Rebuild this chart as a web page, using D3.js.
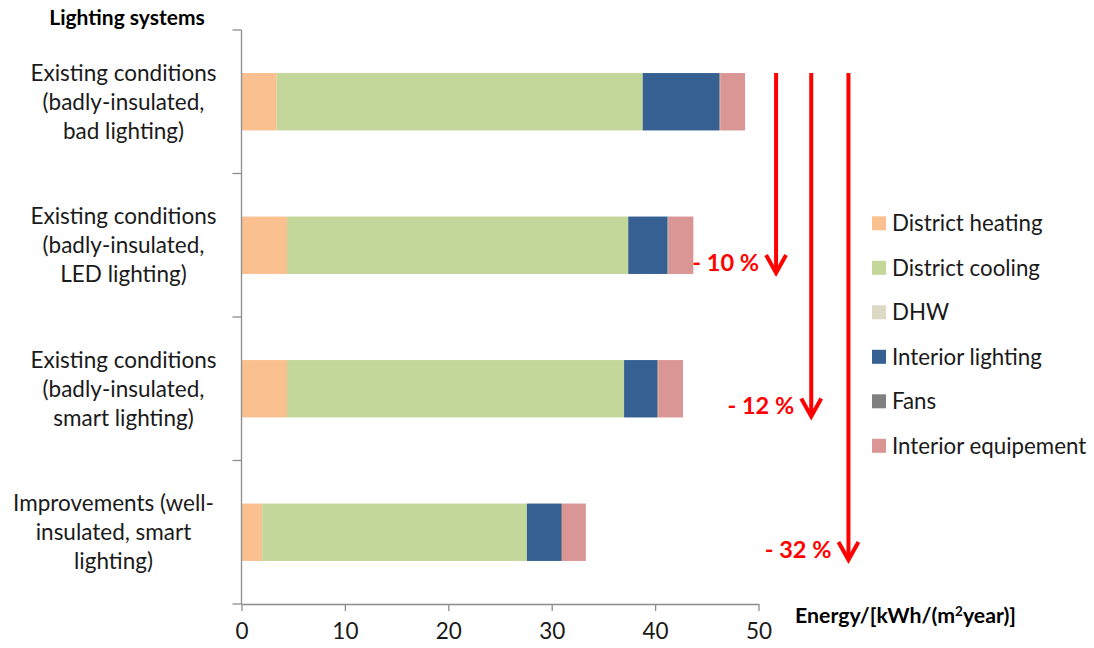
<!DOCTYPE html>
<html>
<head>
<meta charset="utf-8">
<script src="https://cdn.jsdelivr.net/npm/d3@7"></script>
<style>
  html, body { margin: 0; padding: 0; background: #fff; }
  svg { display: block; font-family: Lato, "Open Sans", sans-serif; }
</style>
</head>
<body>
<svg id="chart" width="1094" height="648"></svg>
<script>
// Scenario labels (one line per array entry)
const categories = [
  ["Existing conditions", "(badly-insulated,", "bad lighting)"],
  ["Existing conditions", "(badly-insulated,", "LED lighting)"],
  ["Existing conditions", "(badly-insulated,", "smart lighting)"],
  ["Improvements (well-", "insulated, smart", "lighting)"]
];

// End uses, in stacking order
const seriesNames = ["District heating", "District cooling", "DHW", "Interior lighting", "Fans", "Interior equipement"];
const seriesColors = ["#FAC090", "#C4D79B", "#DDD9C4", "#366092", "#808080", "#DA9694"];

// Energy per end use for each scenario, kWh/(m2 year)
const districtHeating    = [3.4, 4.4, 4.4, 2.0];
const districtCooling    = [35.4, 33.0, 32.6, 25.6];
const dhw                = [0.0, 0.0, 0.0, 0.0];
const interiorLighting   = [7.4, 3.8, 3.2, 3.3];
const fans               = [0.1, 0.1, 0.1, 0.1];
const interiorEquipement = [2.4, 2.4, 2.4, 2.3];

const xTicks = [0, 10, 20, 30, 40, 50];

// Savings arrows: scenario compared with the first one, and arrow x (kWh units)
const savingTargets = [1, 2, 3];
const arrowX = [51.7, 55.1, 58.7];

const seriesValues = [districtHeating, districtCooling, dhw, interiorLighting, fans, interiorEquipement];

const svg = d3.select("#chart");
const axisColor = "#8c8c8c";
const plot = { left: 241.5, right: 758.5, top: 30, bottom: 604 };

const x = d3.scaleLinear().domain([0, 50]).range([plot.left, plot.right]);
const y = d3.scaleBand()
  .domain(d3.range(categories.length))
  .range([plot.top, plot.bottom])
  .paddingInner(0.6)
  .paddingOuter(0.3);

// Stack the rows
const rows = categories.map((c, i) => {
  const r = { idx: i };
  seriesNames.forEach((s, j) => { r[s] = seriesValues[j][i]; });
  return r;
});
const stacked = d3.stack().keys(seriesNames)(rows);
const totals = rows.map(r => d3.sum(seriesNames, s => r[s]));

// Bars
const layers = svg.append("g").selectAll("g")
  .data(stacked).join("g")
  .attr("fill", (d, i) => seriesColors[i]);
layers.selectAll("rect")
  .data(d => d.filter(v => v[1] - v[0] > 0))
  .join("rect")
  .attr("x", d => x(d[0]))
  .attr("width", d => x(d[1]) - x(d[0]))
  .attr("y", d => y(d.data.idx))
  .attr("height", y.bandwidth());

// Vertical (category) axis with ticks at band boundaries
const yAxisG = svg.append("g");
yAxisG.append("line")
  .attr("x1", plot.left).attr("x2", plot.left)
  .attr("y1", plot.top).attr("y2", plot.bottom)
  .attr("stroke", axisColor).attr("stroke-width", 1.3);
yAxisG.selectAll("line.tick")
  .data(d3.range(categories.length + 1))
  .join("line").attr("class", "tick")
  .attr("x1", plot.left - 9).attr("x2", plot.left)
  .attr("y1", i => plot.top + i * y.step())
  .attr("y2", i => plot.top + i * y.step())
  .attr("stroke", axisColor).attr("stroke-width", 1.3);

// Category labels (wrapped lines, centred in the label column)
const lineH = 29;
const labelCenters = [123.5, 123.5, 123.5, 113.5];
svg.append("g").selectAll("text")
  .data(categories)
  .join("text")
  .attr("text-anchor", "middle")
  .attr("font-size", 22.5)
  .attr("fill", "#1a1a1a")
  .each(function (lines, i) {
    const cy = y(i) + y.bandwidth() / 2;
    d3.select(this).selectAll("tspan")
      .data(lines).join("tspan")
      .attr("x", labelCenters[i])
      .attr("y", (l, k) => cy + (k - 1) * lineH + 8)
      .text(l => l);
  });

// Horizontal value axis
const xAxis = d3.axisBottom(x).tickValues(xTicks).tickSize(7).tickSizeOuter(0).tickPadding(12);
const xAxisG = svg.append("g")
  .attr("transform", `translate(0,${plot.bottom})`)
  .call(xAxis);
xAxisG.select(".domain").attr("stroke", axisColor).attr("stroke-width", 1.3);
xAxisG.selectAll(".tick line").attr("stroke", axisColor).attr("stroke-width", 1.3);
xAxisG.selectAll(".tick text")
  .attr("font-family", "Lato, sans-serif")
  .attr("font-size", 22.5)
  .attr("fill", "#1a1a1a");

// Titles
svg.append("text")
  .attr("x", 127).attr("y", 25)
  .attr("text-anchor", "middle")
  .attr("font-weight", "bold")
  .attr("font-size", 21)
  .attr("fill", "#000")
  .text("Lighting systems");

const xTitle = svg.append("text")
  .attr("x", 795).attr("y", 623)
  .attr("font-weight", "bold")
  .attr("font-size", 21.3)
  .attr("fill", "#000");
xTitle.append("tspan").text("Energy/[kWh/(m");
xTitle.append("tspan").attr("font-size", 13.5).attr("dy", -7.5).text("2");
xTitle.append("tspan").attr("dy", 7.5).text("year)]");

// Legend
const legend = svg.append("g").selectAll("g")
  .data(seriesNames)
  .join("g")
  .attr("transform", (d, i) => `translate(872,${223.3 + i * 44.5})`);
legend.append("rect")
  .attr("x", 0).attr("y", -7).attr("width", 14).attr("height", 14)
  .attr("fill", (d, i) => seriesColors[i]);
legend.append("text")
  .attr("x", 20).attr("y", 8)
  .attr("font-size", 22.3)
  .attr("fill", "#1a1a1a")
  .text(d => d);

// Savings arrows and percentages
const red = "#FF0000";
const arrowTop = y(0);
const arrows = svg.append("g").selectAll("g")
  .data(savingTargets)
  .join("g");
arrows.each(function (t, i) {
  const g = d3.select(this);
  const ax = x(arrowX[i]);
  const tip = y(t) + y.bandwidth();
  g.append("line")
    .attr("x1", ax).attr("x2", ax)
    .attr("y1", arrowTop).attr("y2", tip - 2)
    .attr("stroke", red).attr("stroke-width", 4);
  g.append("path")
    .attr("d", d3.line()([[ax - 10, tip - 19], [ax, tip - 1], [ax + 10, tip - 19]]))
    .attr("fill", "none")
    .attr("stroke", red).attr("stroke-width", 4)
    .attr("stroke-linejoin", "miter");
  const pct = Math.round((1 - totals[t] / totals[0]) * 100);
  g.append("text")
    .attr("x", ax - 17).attr("y", tip - 3)
    .attr("text-anchor", "end")
    .attr("font-weight", "bold")
    .attr("font-size", 23.5)
    .attr("fill", red)
    .text(`- ${pct} %`);
});
</script>
</body>
</html>
